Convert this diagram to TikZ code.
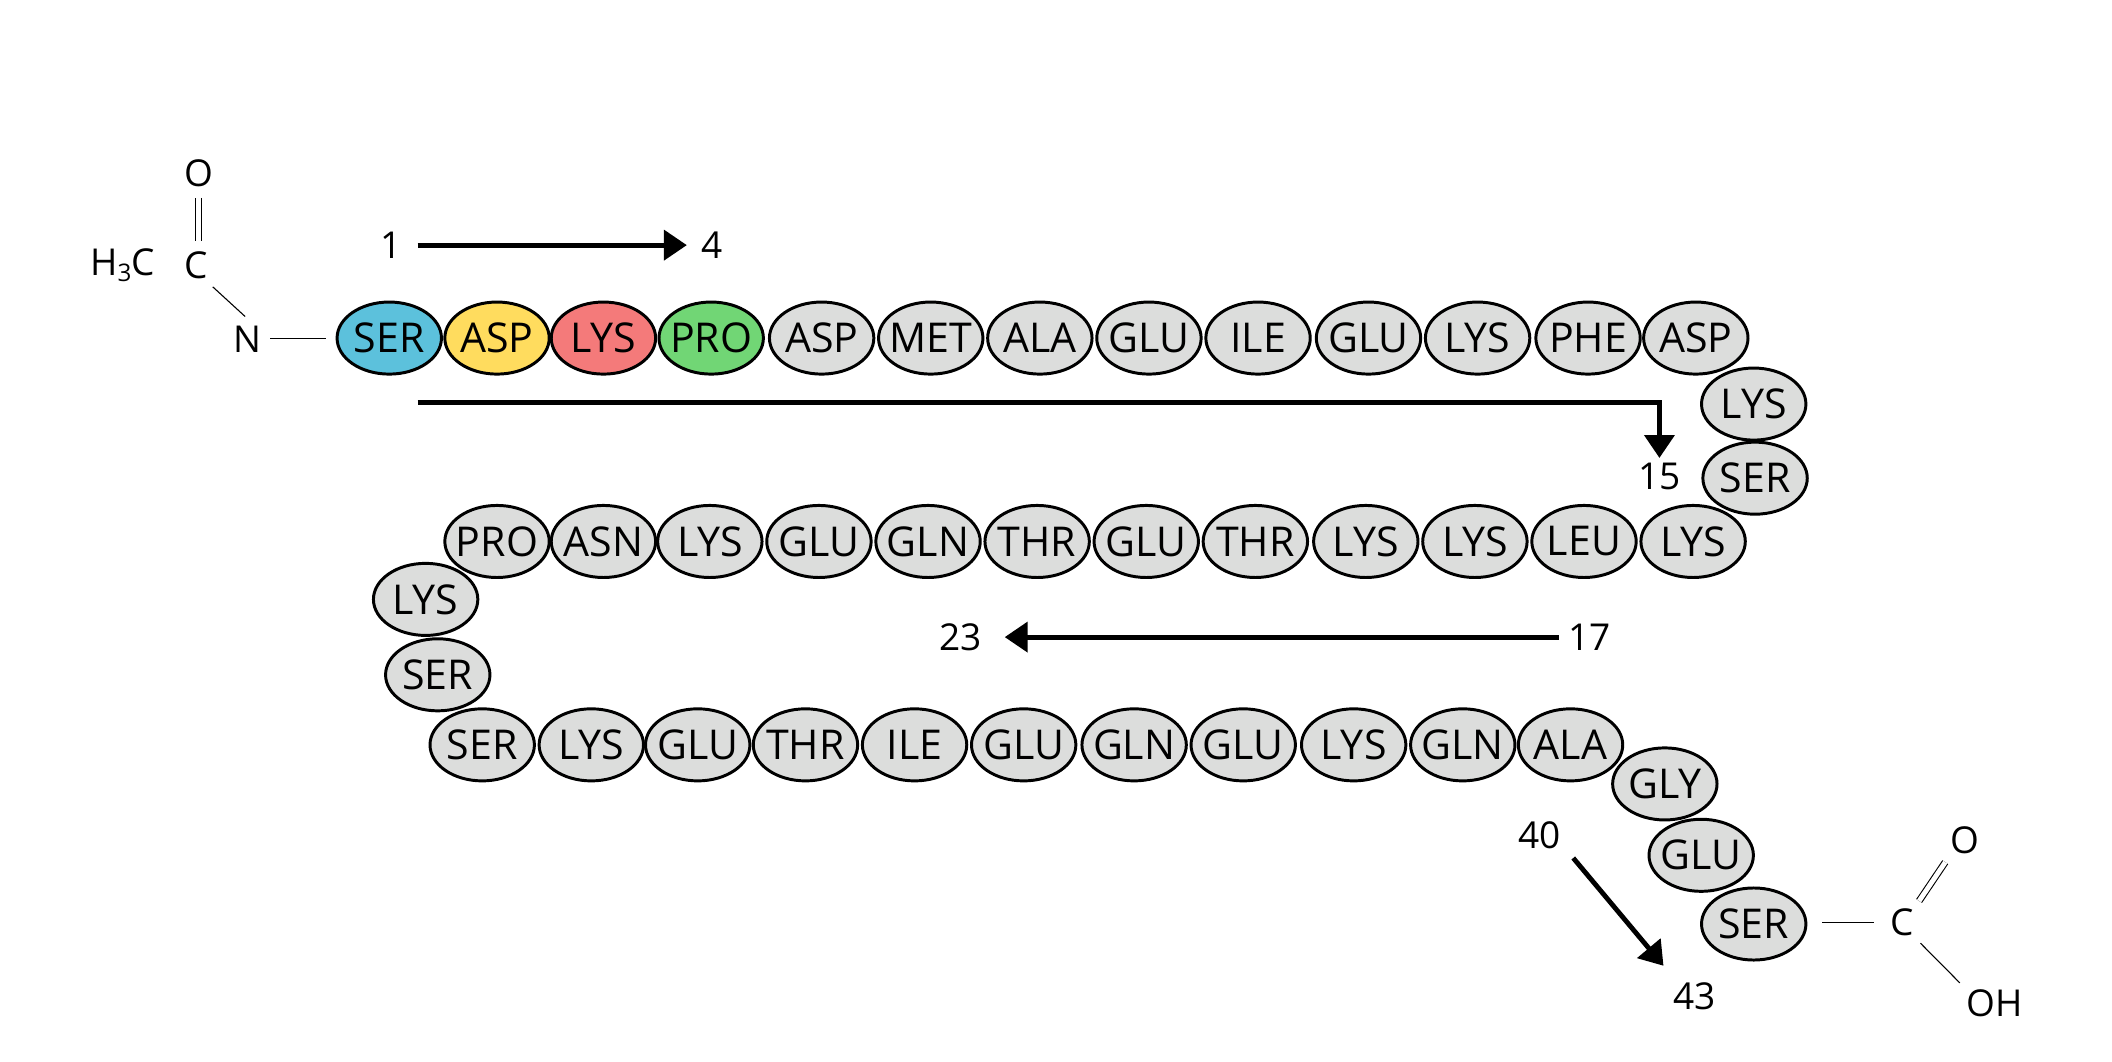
\documentclass[tikz,border=0pt]{standalone}
\usepackage{fontspec}
\setmainfont{Open Sans}
\usetikzlibrary{shapes.geometric,arrows.meta}
\definecolor{resgray}{HTML}{DCDDDC}
\definecolor{resblue}{HTML}{5CC1DC}
\definecolor{resyellow}{HTML}{FFDC5E}
\definecolor{resred}{HTML}{F47A7A}
\definecolor{resgreen}{HTML}{71D675}
\newcommand{\rname}[1]{\makebox[0pt][c]{#1}}
\tikzset{
  res/.style={ellipse,draw=black,line width=2.2pt,fill=resgray,minimum width=77.5pt,minimum height=53.5pt,inner sep=0pt,font=\fontsize{30.5}{30.5}\selectfont},
  lab/.style={inner sep=0pt,font=\fontsize{27.5}{27.5}\selectfont},
  num/.style={inner sep=0pt,font=\fontsize{27.5}{27.5}\selectfont},
  bond/.style={line width=0.8pt},
  arr/.style={line width=3.6pt,-{Triangle[length=17pt,width=22pt]}},
}
\begin{document}
\begin{tikzpicture}[x=1pt,y=-1pt]
\useasboundingbox (0,0) rectangle (1568,788.4);
% row 1
\node[res,fill=resblue] (a1) at (289,251) {\rname{SER}};
\node[res,fill=resyellow] (a2) at (369,251) {\rname{ASP}};
\node[res,fill=resred] (a3) at (448,251) {\rname{LYS}};
\node[res,fill=resgreen] (a4) at (528,251) {\rname{PRO}};
\node[res] (a5) at (610,251) {\rname{ASP}};
\node[res] (a6) at (691,251) {\rname{MET}};
\node[res] (a7) at (772,251) {\rname{ALA}};
\node[res] (a8) at (853,251) {\rname{GLU}};
\node[res] (a9) at (934,251) {\rname{ILE}};
\node[res] (a10) at (1016,251) {\rname{GLU}};
\node[res] (a11) at (1097,251) {\rname{LYS}};
\node[res] (a12) at (1179,251) {\rname{PHE}};
\node[res] (a13) at (1259,251) {\rname{ASP}};
\node[res] (a14) at (1302,300) {\rname{LYS}};
\node[res] (a15) at (1303,355) {\rname{SER}};
% row 2
\node[res] (b1) at (1257,402) {\rname{LYS}};
\node[res] (b2) at (1176,402) {\rname{LEU}};
\node[res] (b3) at (1095,402) {\rname{LYS}};
\node[res] (b4) at (1014,402) {\rname{LYS}};
\node[res] (b5) at (932,402) {\rname{THR}};
\node[res] (b6) at (851,402) {\rname{GLU}};
\node[res] (b7) at (770,402) {\rname{THR}};
\node[res] (b8) at (689,402) {\rname{GLN}};
\node[res] (b9) at (608,402) {\rname{GLU}};
\node[res] (b10) at (527,402) {\rname{LYS}};
\node[res] (b11) at (448,402) {\rname{ASN}};
\node[res] (b12) at (369,402) {\rname{PRO}};
\node[res] (b13) at (316,445) {\rname{LYS}};
\node[res] (b14) at (325,501) {\rname{SER}};
% row 3
\node[res] (c1) at (358,553) {\rname{SER}};
\node[res] (c2) at (439,553) {\rname{LYS}};
\node[res] (c3) at (518,553) {\rname{GLU}};
\node[res] (c4) at (598,553) {\rname{THR}};
\node[res] (c5) at (679,553) {\rname{ILE}};
\node[res] (c6) at (760,553) {\rname{GLU}};
\node[res] (c7) at (842,553) {\rname{GLN}};
\node[res] (c8) at (923,553) {\rname{GLU}};
\node[res] (c9) at (1005,553) {\rname{LYS}};
\node[res] (c10) at (1086,553) {\rname{GLN}};
\node[res] (c11) at (1166,553) {\rname{ALA}};
\node[res] (c12) at (1236,582) {\rname{GLY}};
\node[res] (c13) at (1263,635) {\rname{GLU}};
\node[res] (c14) at (1302,686) {\rname{SER}};
% chemistry left
\node[lab] (o1) at (148,129) {O};
\node[lab] (c0) at (146,197) {C};
\node[lab] (h3c) at (91,197) {H\raisebox{-4pt}{\fontsize{18}{18}\selectfont 3}C};
\node[lab] (n0) at (184,252) {N};
\draw[bond,double,double distance=3.6pt] (o1) ++(-0.5,18) coordinate (ob) -- ++(0,32);
\draw[bond] (c0) ++(12,16) coordinate (cb) (n0) ++(-2,-17) coordinate (nb) (cb) -- (nb);
\draw[bond,shorten <=6pt,shorten >=7pt] (n0.east |- a1) -- (a1.west);
% chemistry right
\node[lab] (c99) at (1412,685) {C};
\node[lab] (o2) at (1459,624) {O};
\node[lab] (oh) at (1481,745) {OH};
\draw[bond,shorten <=11pt,shorten >=12pt] (c14.east |- c99) -- (c99.west);
\draw[bond,double,double distance=3.6pt,shorten <=7pt,shorten >=7pt] (c99.north east) -- (o2.south west);
\draw[bond,shorten <=7pt,shorten >=7pt] (c99.south east) -- (oh.north west);
% numbers & arrows
\node[num] (n1) at (290,182) {1};
\node[num] (n4) at (529,182) {4};
\node[num] (n15) at (1232,354) {15};
\node[num] (n17) at (1180,473) {17};
\node[num] (n23) at (713,473) {23};
\node[num] (n40) at (1143,620) {40};
\node[num] (n43) at (1258,740) {43};
\coordinate (s15) at (310,299);
\coordinate (s40) at (1168,637);
\draw[arr,shorten <=12pt,shorten >=11pt] (n1.east) -- (n4.west);
\draw[arr,shorten >=2pt] (s15) -- (n15.north |- s15) -- (n15.north |- 0,342);
\draw[arr,shorten <=7pt,shorten >=17pt] (n17.west) -- (n23.east);
\draw[arr] (s40) -- (1235,717);
\end{tikzpicture}
\end{document}
